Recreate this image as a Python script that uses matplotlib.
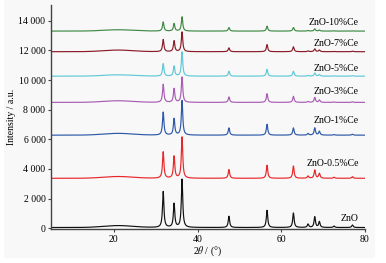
import numpy as np
import matplotlib.pyplot as plt
from matplotlib.patches import Rectangle
from matplotlib.ticker import FuncFormatter

plt.rcParams['font.family'] = ['Liberation Serif', 'DejaVu Serif']
plt.rcParams['mathtext.fontset'] = 'stix'

# Samples, bottom to top
labels = ['ZnO', 'ZnO-0.5%Ce', 'ZnO-1%Ce', 'ZnO-3%Ce', 'ZnO-5%Ce', 'ZnO-7%Ce', 'ZnO-10%Ce']
colors = ['#111111', '#e8262a', '#2d58a8', '#a85cb4', '#5fc8d8', '#8a1c28', '#3f8a44']

# baseline offset of each pattern (counts)
baselines = [50, 3370, 6280, 8490, 10260, 11910, 13300]
# broad amorphous hump near 21 deg
hump = [130, 120, 120, 110, 90, 110, 90]

# ZnO reflections (2theta, deg)
peak_pos = [31.8, 34.4, 36.3, 47.5, 56.6, 62.9, 66.4, 68.0, 69.1, 72.6, 77.0]
# peak heights above baseline, one row per sample
peak_h = [
    [2420, 1600, 3250, 760, 1160, 980, 230, 720, 390, 100, 170],
    [1780, 1480, 2780, 590, 880, 830, 150, 560, 330, 70, 110],
    [1550, 1110, 2330, 490, 730, 490, 110, 490, 260, 40, 60],
    [1220, 930, 1710, 370, 590, 410, 60, 330, 160, 30, 40],
    [840, 680, 1640, 330, 460, 330, 50, 210, 110, 20, 30],
    [820, 730, 1330, 260, 480, 330, 50, 190, 110, 20, 30],
    [620, 510, 960, 240, 330, 240, 40, 150, 70, 20, 20],
]

label_y = [670, 4340, 7260, 9210, 10810, 12480, 13900]

x = np.linspace(5, 80, 3001)
w = 0.2


def pattern(i):
    y = baselines[i] + hump[i] * np.exp(-((x - 21) / 5.0) ** 2)
    for c, h in zip(peak_pos, peak_h[i]):
        y = y + h / (1 + ((x - c) / w) ** 2)
    return y


fig = plt.figure(figsize=(3.86, 2.63), dpi=100, facecolor='white')
fig.patches.append(Rectangle((4 / 386, 5 / 263), 371 / 386, 258 / 263,
                             transform=fig.transFigure, facecolor='#f8f8f8',
                             edgecolor='none', zorder=-10))
ax = fig.add_axes([51 / 386, 1 - 229 / 263, 314 / 386, 224 / 263])
ax.patch.set_visible(False)

for i in range(len(labels)):
    ax.plot(x, pattern(i), color=colors[i], lw=0.85)
    ax.text(78.5, label_y[i], labels[i], ha='right', va='center', fontsize=7)

ax.set_xlim(5, 80)
ax.set_ylim(-50, 15060)
ax.set_xticks([20, 40, 60, 80])
ax.set_yticks(np.arange(0, 14001, 2000))
ax.yaxis.set_major_formatter(FuncFormatter(lambda v, p: f'{int(v):,}'.replace(',', ' ')))

for s in ['top', 'right']:
    ax.spines[s].set_visible(False)
for s in ['left', 'bottom']:
    ax.spines[s].set_color('#444444')
    ax.spines[s].set_linewidth(1.0)
ax.tick_params(labelsize=7, length=2.5, width=0.8, color='#444444', pad=1.5)

ax.set_ylabel('Intensity / a.u.', fontsize=7, labelpad=2)
ax.set_xlabel(r'2$\mathit{\theta}$ / (°)', fontsize=7, labelpad=1)

fig.savefig('out.png', dpi=100, facecolor=fig.get_facecolor())
